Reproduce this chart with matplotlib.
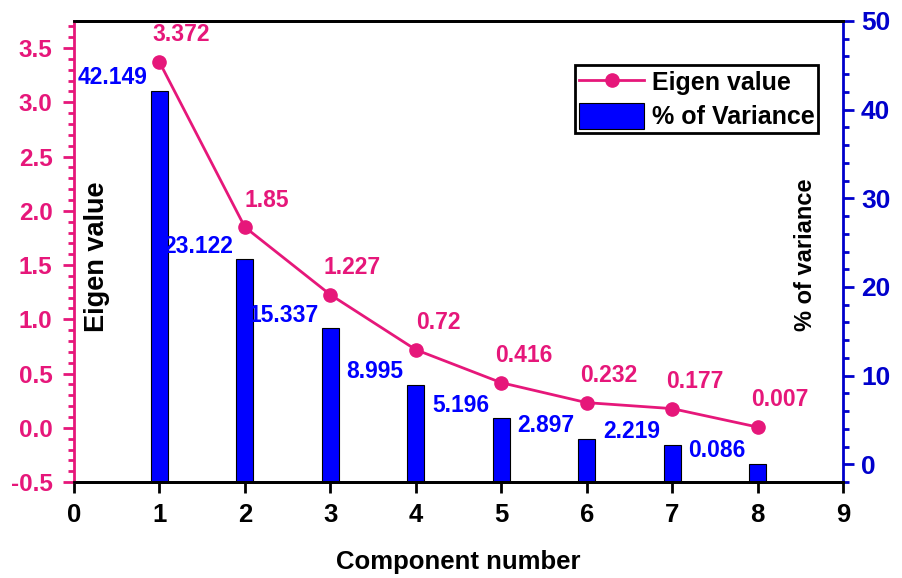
import numpy as np
import matplotlib
matplotlib.use("Agg")
import matplotlib.pyplot as plt
from matplotlib.ticker import MultipleLocator, FormatStrFormatter
from matplotlib.lines import Line2D
from matplotlib.patches import Patch

plt.rcParams['font.family'] = ['Liberation Sans', 'DejaVu Sans']
plt.rcParams['font.weight'] = 'bold'

# PCA scree data
components = [1, 2, 3, 4, 5, 6, 7, 8]
eigen_values = [3.372, 1.85, 1.227, 0.72, 0.416, 0.232, 0.177, 0.007]
variance_pct = [42.149, 23.122, 15.337, 8.995, 5.196, 2.897, 2.219, 0.086]
eigen_labels = ["3.372", "1.85", "1.227", "0.72", "0.416", "0.232", "0.177", "0.007"]
variance_labels = ["42.149", "23.122", "15.337", "8.995", "5.196", "2.897", "2.219", "0.086"]
x_ticks = [0, 1, 2, 3, 4, 5, 6, 7, 8, 9]

PINK = '#E6177A'
BLUE = '#0000FF'
AXBLUE = '#0000CC'
BAR_W = 0.2

fig = plt.figure(figsize=(9.02, 5.78), dpi=100)
ax = fig.add_axes([0.082, 0.166, 0.8526, 0.7977])
ax2 = ax.twinx()
ax.set_zorder(ax2.get_zorder() + 1)
ax.patch.set_visible(False)

# variance bars on the right-hand axis, rising from the axis floor
v_lo, v_hi = -2, 50
var = np.array(variance_pct)
ax2.bar(components, var - v_lo, bottom=v_lo, width=BAR_W,
        color=BLUE, edgecolor='black', linewidth=0.8)
ax2.set_ylim(v_lo, v_hi)
for c, v, t in zip(components, variance_pct, variance_labels):
    ax2.annotate(t, xy=(c - BAR_W / 2, v), textcoords='offset points',
                 xytext=(-2.5, 9.5), ha='right', va='center',
                 color=BLUE, fontsize=16.5, fontweight='bold')

# eigenvalue line on the left-hand axis
ax.plot(components, eigen_values, color=PINK, linewidth=2,
        marker='o', markersize=9.5, zorder=5)
for c, e, t in zip(components, eigen_values, eigen_labels):
    ax.annotate(t, xy=(c, e), textcoords='offset points',
                xytext=(16, 19.5), ha='center', va='center',
                color=PINK, fontsize=16.5, fontweight='bold')

ax.set_xlim(0, 9)
ax.set_ylim(-0.5, 3.75)
ax.set_xticks(x_ticks)
ax.yaxis.set_major_locator(MultipleLocator(0.5))
ax.yaxis.set_minor_locator(MultipleLocator(0.1))
ax.yaxis.set_major_formatter(FormatStrFormatter('%.1f'))
ax2.yaxis.set_major_locator(MultipleLocator(10))
ax2.yaxis.set_minor_locator(MultipleLocator(2))

# spines
for a in (ax, ax2):
    for s in a.spines.values():
        s.set_linewidth(2)
ax.spines['right'].set_visible(False)
ax2.spines['left'].set_visible(False)
ax.spines['left'].set_color(PINK)
ax2.spines['right'].set_color(AXBLUE)
ax.spines['top'].set_color('black')
ax.spines['bottom'].set_color('black')

ax.tick_params(axis='x', direction='out', length=8, width=2, colors='black',
               labelsize=18.5, pad=7)
ax.tick_params(axis='y', which='major', direction='out', length=8, width=2,
               color=PINK, labelcolor=PINK, labelsize=17.5, pad=7.5)
ax.tick_params(axis='y', which='minor', direction='out', length=4.5, width=2,
               color=PINK)
ax2.tick_params(axis='y', which='major', direction='out', length=8, width=2,
                color=AXBLUE, labelcolor=AXBLUE, labelsize=19, pad=5)
ax2.tick_params(axis='y', which='minor', direction='out', length=4.5, width=2,
                color=AXBLUE)
ax2.tick_params(axis='x', which='both', length=0)
for lab in ax.get_xticklabels() + ax.get_yticklabels() + ax2.get_yticklabels():
    lab.set_fontweight('bold')

# axis titles
ax.set_xlabel('Component number', fontsize=18.5, fontweight='bold', labelpad=17)
ax.text(0.030, 0.488, 'Eigen value', transform=ax.transAxes, rotation=90,
        ha='center', va='center', fontsize=19.5, fontweight='bold')
ax.text(0.9506, 0.492, '% of variance', transform=ax.transAxes, rotation=90,
        ha='center', va='center', fontsize=17, fontweight='bold')

handles = [Line2D([], [], color=PINK, linewidth=2, marker='o', markersize=9.5),
           Patch(facecolor=BLUE, edgecolor='black', linewidth=0.8)]
leg = ax.legend(handles, ['Eigen value', '% of Variance'], loc='upper right',
                bbox_to_anchor=(0.9675, 0.9046), borderaxespad=0,
                fancybox=False, framealpha=1, edgecolor='black',
                prop={'size': 18, 'weight': 'bold'},
                handlelength=2.6, handleheight=1.25, handletextpad=0.3,
                borderpad=0.15, labelspacing=0.3)
leg.get_frame().set_linewidth(2)

fig.savefig('out.png', dpi=100)
